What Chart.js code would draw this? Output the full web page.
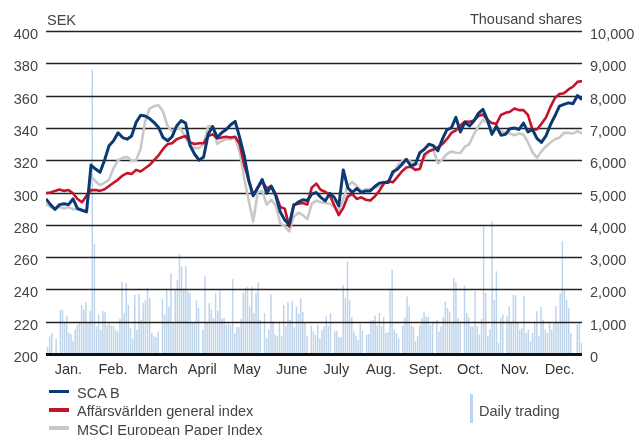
<!DOCTYPE html>
<html><head><meta charset="utf-8">
<script src="https://cdn.jsdelivr.net/npm/chart.js@4.4.1/dist/chart.umd.min.js"></script>
<style>
html,body{margin:0;padding:0;background:#fff;}
#wrap{position:relative;width:635px;height:435px;overflow:hidden;font-family:"Liberation Sans",Arial,Helvetica,sans-serif;}
#c{position:absolute;left:0;top:0;}
.t{position:absolute;font-size:14.5px;line-height:18px;color:#444;white-space:nowrap;}
.sw{position:absolute;}
</style></head><body>
<div id="wrap">
<canvas id="c" width="635" height="435"></canvas>
<div class="t" style="left:47px;top:11px">SEK</div>
<div class="t" style="right:53px;top:10px">Thousand shares</div>
<div class="sw" style="left:49px;top:389.5px;width:20px;height:3.5px;background:#0b3a73"></div>
<div class="t" style="left:77px;top:383.5px">SCA B</div>
<div class="sw" style="left:49px;top:408px;width:20px;height:3.5px;background:#c4132b"></div>
<div class="t" style="left:77px;top:402px">Affärsvärlden general index</div>
<div class="sw" style="left:49px;top:426px;width:20px;height:3.5px;background:#c8c8c8"></div>
<div class="t" style="left:77px;top:420.5px">MSCI European Paper Index</div>
<div class="sw" style="left:470px;top:394px;width:3px;height:29px;background:#bdd4eb"></div>
<div class="t" style="left:479px;top:402px">Daily trading</div>
</div>
<script>
const months = ['Jan.','Feb.','March','April','May','June','July','Aug.','Sept.','Oct.','Nov.','Dec.'];

const scaB = [
296,292.5,289.5,292.5,293,292.5,296,290,289,288,
317,314.5,312.5,320,329,332,337,334,333,335,
343.3,347.8,347.4,345.8,343.3,340.2,334,332,334.6,341.2,
344.5,343,329,323.7,320,322,336,340.8,334,337,
339,342,344,334,323,307.5,298,303,308,299.5,
304,298,288,283,280,292,294,295.5,295,299,
300,297,294.8,299.5,297,291.7,314,303,300,302.5,
300,301,301,303.7,305.8,306.2,306.2,312.8,314.4,317.3,
320.6,316.5,317.5,324.7,326.8,329.9,329,325.8,333,338.8,
340,346.5,337.5,343.5,341.2,344.3,349,351.5,345,336,
341,335.5,336,339.5,340,339,343,337.5,339,333.5,
331,335,342,347.5,353.5,354.6,355.5,355,360,357.5
];

const affarsvarlden = [
299.7,300,301,301.8,301,301.5,299.5,296,294,298,
301.5,301.5,301,302,304,306,308,310.5,312,311.5,
314,313,315,317,320,323,327,330,330.5,333,
334,335,331,330,330.5,330.5,335,336,333.5,334,
334.5,334,334.5,330,317,308,298,303,307,302.5,
304,299,291,290,279,292.5,293,293.5,292.5,303,
305.5,301.5,300.5,298.5,292,286,290.5,297.5,299,296,
297,295.5,295,297.5,301,305.5,307,306.3,309.5,313,
315.5,316,314,314.5,323.5,325.5,326.6,328,330,333,
336.9,338.5,341.5,344,343.8,344.5,347.3,348.3,345,343,
342.5,348,349.3,350,352,351,351,348,339,339,
342.5,346.5,353,358.5,361,361.5,363.8,365.5,368.5,369
];

const msci = [
293,291,290.5,291,290,291,289.5,290,289,288.5,
310,307,304.5,306,308,315,320,321.5,322,320,
320,327,344,352,353.5,354,350,341,338,340,
339,334,329,327.5,327.5,330,341,341,330,332,
333,333,334,325,309,295,282,300,301,292.5,
295.5,292,281,279,276,285,287.5,286,283.5,293,
295,294,293.5,293,291,288.5,296,304,306.5,304,
301,302,302,302.8,303.8,306,307.5,311,316.5,319.3,
320,319,318,317,321.5,325.5,326.6,318,320.5,323.8,
325.4,324.6,324.5,328.4,330,336,341,345,343,339,
339.5,338,337,336.5,335.5,336.5,336,331,325,321.5,
325.5,328.5,331,333,334,337,336.9,336.5,338,336.5
];

const dailyTrading = [
220,540,660,0,470,0,1370,1370,1000,1180,650,620,410,760,900,1000,1520,1370,1600,960,1330,
8800,3400,850,1215,750,1320,1290,900,940,880,880,750,700,1080,2220,1270,2190,1520,800,460,1830,
750,1860,1060,1575,1680,2040,1730,650,550,515,700,0,1700,1215,1970,1470,2500,980,1990,2300,3090,
2710,2000,2730,1940,1880,980,980,1660,1420,0,750,2420,960,1575,1370,1110,1900,1340,1990,1110,1110,
900,960,900,2320,650,830,830,1080,1900,2040,2070,1470,2090,1270,1900,2220,1060,0,1270,490,770,
1860,1010,600,550,1000,550,1520,860,1600,1050,1630,830,1470,1250,1730,1300,980,550,0,880,700,
600,900,490,750,850,1160,880,1270,0,700,720,515,515,2130,1730,2860,1680,1140,700,570,440,
930,720,0,600,620,1030,1050,1190,880,1270,860,1140,650,670,1990,2610,750,650,490,0,880,
1140,1780,1470,900,850,390,570,880,1110,1320,1150,1150,900,1010,0,1050,700,850,1150,1630,1420,
1320,960,2350,2220,1110,960,0,2110,1270,1140,850,850,1940,850,600,1080,3950,1890,550,770,4100,
1680,2560,340,1110,1215,0,1180,1470,960,1830,1830,960,750,800,1800,650,750,390,650,960,1320,
560,1470,1060,750,650,1000,750,960,1490,960,1890,3500,1990,1680,1420,650,0,0,910,960,340
];

const FONT = {family:'"Liberation Sans", Arial, Helvetica, sans-serif', size:14.5};
const toXY = arr => arr.map((v,i)=>({x:i,y:v}));
const dayLabels = dailyTrading.map((_,i)=>String(i+1));
const fmt = v => String(v).replace(/\B(?=(\d{3})+(?!\d))/g, ',');

const gridOverBars = {
  id:'gridOverBars',
  afterDatasetDraw(chart, args){
    if (args.meta.type !== 'bar') return;
    const {ctx, chartArea, scales} = chart;
    const y = scales.y;
    ctx.save();
    y.ticks.forEach(t=>{
      const py = Math.round(y.getPixelForValue(t.value));
      ctx.beginPath();
      if (t.value === 200){
        ctx.lineWidth = 3; ctx.strokeStyle = '#111';
      } else {
        ctx.lineWidth = 1.4; ctx.strokeStyle = '#222';
      }
      ctx.moveTo(chartArea.left, py+0.5); ctx.lineTo(chartArea.right, py+0.5);
      ctx.stroke();
    });
    ctx.restore();
  }
};

new Chart(document.getElementById('c'), {
  type:'bar',
  data:{
    labels: dayLabels,
    datasets:[
      {type:'line', label:'SCA B', data:toXY(scaB), xAxisID:'xl', yAxisID:'y', borderColor:'#0b3a73', borderWidth:3, pointRadius:0, tension:0, order:1, borderJoinStyle:'round'},
      {type:'line', label:'Affärsvärlden general index', data:toXY(affarsvarlden), xAxisID:'xl', yAxisID:'y', borderColor:'#c4132b', borderWidth:2.6, pointRadius:0, tension:0, order:2, borderJoinStyle:'round'},
      {type:'line', label:'MSCI European Paper Index', data:toXY(msci), xAxisID:'xl', yAxisID:'y', borderColor:'#c8c8c8', borderWidth:2.6, pointRadius:0, tension:0, order:3, borderJoinStyle:'round'},
      {type:'bar', label:'Daily trading', data:dailyTrading, xAxisID:'x', yAxisID:'y2', backgroundColor:'#bdd4eb', barPercentage:1.4, categoryPercentage:1, inflateAmount:0, order:10}
    ]
  },
  options:{
    responsive:false, animation:false, devicePixelRatio:1, events:[],
    layout:{padding:{top:31,left:0,right:0,bottom:0}},
    plugins:{legend:{display:false}, tooltip:{enabled:false}},
    scales:{
      x:{type:'category', display:false, offset:true, grid:{display:false}},
      xl:{type:'linear', display:false, offset:false, grid:{offset:false, display:false}, min:0, max:scaB.length-1},
      xm:{type:'category', labels:months, position:'bottom', offset:true,
          grid:{display:false, drawTicks:false}, border:{display:false},
          ticks:{color:'#333', font:FONT, padding:7, autoSkip:false, maxRotation:0},
          afterFit(s){ s.height = 81; }},
      y:{type:'linear', position:'left', min:200, max:400,
         ticks:{stepSize:20, padding:8, labelOffset:4, color:'#444', font:FONT},
         grid:{display:false, drawTicks:false}, border:{display:false},
         afterFit(s){ s.width = 46; }},
      y2:{type:'linear', position:'right', min:0, max:10000,
         ticks:{stepSize:1000, padding:8, labelOffset:4, color:'#444', font:FONT, callback:v=>fmt(v)},
         grid:{display:false, drawTicks:false}, border:{display:false},
         afterFit(s){ s.width = 53; }}
    }
  },
  plugins:[gridOverBars]
});
</script>
</body></html>
